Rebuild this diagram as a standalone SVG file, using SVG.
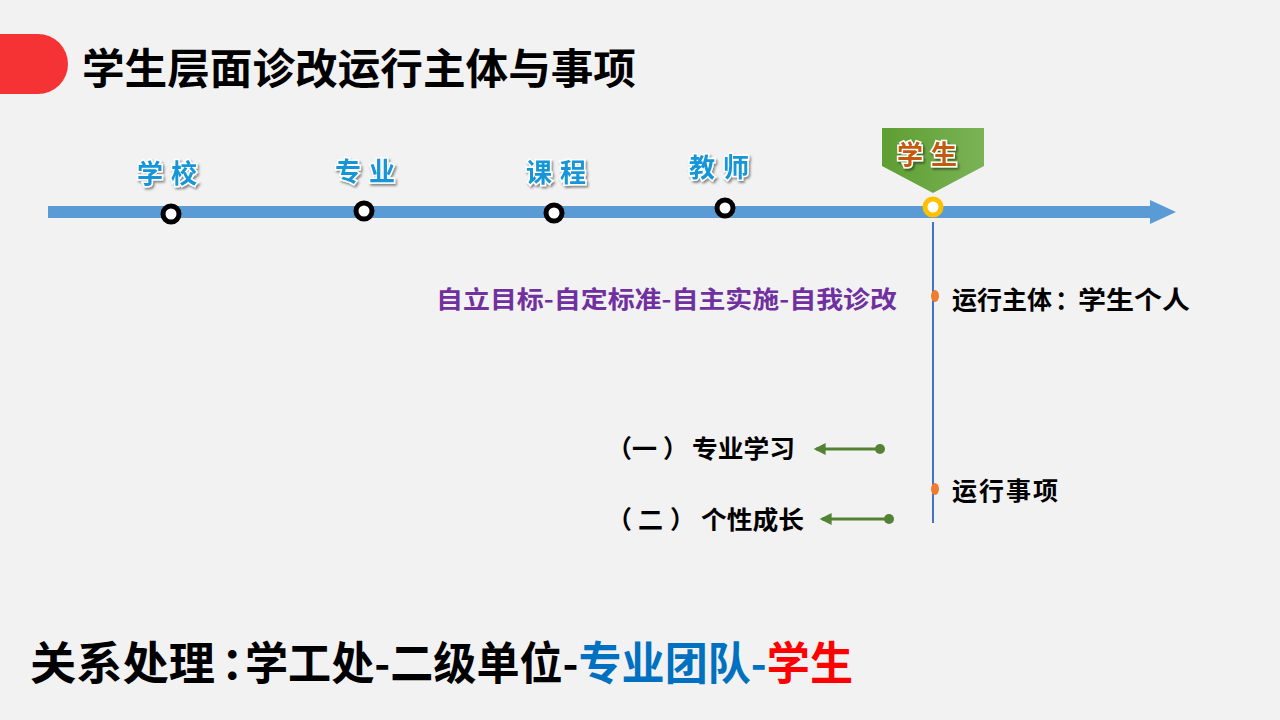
<svg xmlns="http://www.w3.org/2000/svg" width="1280" height="720" viewBox="0 0 1280 720">
<defs>
<filter id="sh" x="-20%" y="-20%" width="140%" height="150%">
<feDropShadow dx="1.5" dy="2" stdDeviation="1.2" flood-color="#000" flood-opacity="0.45"/>
</filter>
<linearGradient id="gr" x1="0" y1="0" x2="1" y2="0">
<stop offset="0" stop-color="#5e9e32"/>
<stop offset="1" stop-color="#7ab356"/>
</linearGradient>
<marker id="ah" viewBox="0 0 10 10" refX="8" refY="5" markerWidth="4.5" markerHeight="4" orient="auto" markerUnits="strokeWidth">
<path d="M0,0 L10,5 L0,10 Z" fill="#548235"/>
</marker>
<style>
text{font-family:"Noto Sans CJK SC","Noto Sans",sans-serif;font-weight:700}
.lbl{font-size:26px;fill:#1296d8;stroke:#fff;stroke-width:3px;paint-order:stroke;filter:url(#sh);letter-spacing:8px}
.node{fill:#fff;stroke:#000;stroke-width:5}
.k{font-size:25px;fill:#000}
.h{font-feature-settings:"halt"}
</style>
</defs>
<rect width="1280" height="720" fill="#f2f2f2"/>
<g id="header">
<path d="M0,34 H38 A30,30 0 0 1 38,94 H0 Z" fill="#f53334"/>
<text x="82" y="84" font-size="42" font-weight="900" fill="#000" textLength="554" lengthAdjust="spacingAndGlyphs">学生层面诊改运行主体与事项</text>
</g>
<g id="connectors">
<path d="M48,212 H1152" stroke="#5b9bd5" stroke-width="12"/>
<path d="M1150,200 L1176,212 L1150,224 Z" fill="#5b9bd5"/>
<line x1="933" y1="222" x2="933" y2="523" stroke="#4472c4" stroke-width="2"/>
<line x1="880" y1="449" x2="816" y2="449" stroke="#548235" stroke-width="3" marker-end="url(#ah)"/>
<circle cx="880" cy="449" r="5" fill="#548235"/>
<line x1="889" y1="519" x2="822" y2="519" stroke="#548235" stroke-width="3" marker-end="url(#ah)"/>
<circle cx="889" cy="519" r="5" fill="#548235"/>
</g>
<g id="node-school">
<text class="lbl" x="137" y="183">学校</text>
<circle class="node" cx="171" cy="214" r="8"/>
</g>
<g id="node-major">
<text class="lbl" x="335" y="181">专业</text>
<circle class="node" cx="364" cy="211" r="8"/>
</g>
<g id="node-course">
<text class="lbl" x="526" y="182">课程</text>
<circle class="node" cx="554" cy="213" r="8"/>
</g>
<g id="node-teacher">
<text class="lbl" x="689" y="177">教师</text>
<circle class="node" cx="725" cy="208" r="8"/>
</g>
<g id="node-student">
<path d="M882,128 H984 V166 L933,193 L882,166 Z" fill="url(#gr)"/>
<text x="897" y="164" font-size="26" fill="#c55a11" stroke="#fff" stroke-width="3" paint-order="stroke" filter="url(#sh)" letter-spacing="8">学生</text>
<circle cx="933" cy="207" r="8" fill="#fff" stroke="#ffc000" stroke-width="5"/>
</g>
<g id="subject">
<ellipse cx="935" cy="296" rx="4" ry="6" fill="#ed7d31"/>
<text x="436" y="308" font-size="24" fill="#7030a0" textLength="461" lengthAdjust="spacingAndGlyphs">自立目标-自定标准-自主实施-自我诊改</text>
<text class="k" x="952" y="309">运行主体<tspan class="h" x="1055">：</tspan><tspan x="1078" textLength="112" lengthAdjust="spacingAndGlyphs">学生个人</tspan></text>
</g>
<g id="items">
<ellipse cx="935" cy="489" rx="4" ry="6" fill="#ed7d31"/>
<text class="k" x="952" y="500" textLength="106">运行事项</text>
<text class="k" x="607" y="458">（<tspan x="632">一</tspan><tspan x="663">）</tspan><tspan x="692" textLength="103" lengthAdjust="spacingAndGlyphs">专业学习</tspan></text>
<text class="k" x="607" y="529">（<tspan x="638">二</tspan><tspan x="670">）</tspan><tspan x="701" textLength="103" lengthAdjust="spacingAndGlyphs">个性成长</tspan></text>
</g>
<g id="footer">
<text x="30" y="680" font-size="45" font-weight="900" fill="#000"><tspan textLength="185" lengthAdjust="spacingAndGlyphs">关系处理</tspan><tspan class="h" x="221">：</tspan><tspan x="245" textLength="608" lengthAdjust="spacingAndGlyphs">学工处-二级单位-<tspan fill="#0070c0">专业团队-</tspan><tspan fill="#ff0000">学生</tspan></tspan></text>
</g>
</svg>
